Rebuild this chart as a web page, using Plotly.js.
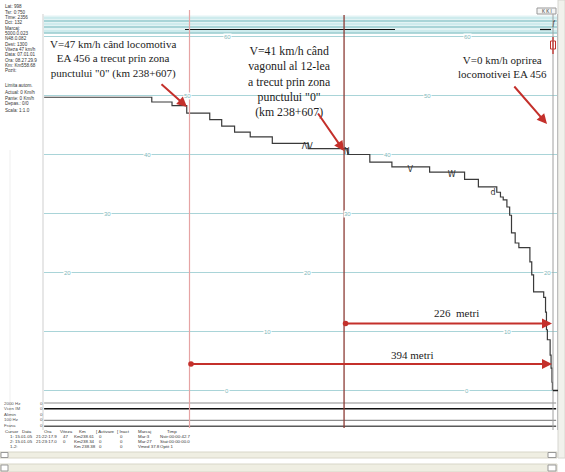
<!DOCTYPE html>
<html><head><meta charset="utf-8">
<script src="https://cdn.plot.ly/plotly-3.0.1.min.js"></script>
<style>html,body{margin:0;padding:0;background:#fff}#c{width:565px;height:472px}</style>
</head><body><div id="c"></div>
<script>
// ---- data ----
const distM = [-158, -41, -19, -3, 22, 35, 49, 66, 90, 129, 172, 196, 220, 261, 299, 314, 334, 338, 341, 345, 348, 350, 354, 358, 370, 372, 374, 385, 387, 388, 389, 392, 393, 394, 394.5];
const speedKmh = [49.7, 48.9, 48.3, 47.0, 45.9, 44.8, 43.8, 43.0, 41.9, 41.0, 40.0, 38.7, 37.9, 37.0, 35.8, 34.5, 33.6, 32.8, 32.3, 31.1, 29.7, 26.7, 25.0, 24.2, 21.8, 19.6, 16.7, 15.8, 13.3, 10.3, 8.6, 6.0, 3.8, 1.4, 0];
const markDist = [128, 171, 240, 285, 330];
const markSpeed = [41.3, 40.4, 37.4, 36.5, 33.5];
const markText = ['ΛV', 'N', 'V', 'W', 'd'];
const gridValues = [60, 50, 40, 30, 20, 10, 0];
const channelNames = ['2000 Hz', 'Vcen IM', 'Alimin', '100 Hz', 'Frana'];
const channelValues = [0, 0, 0, 0, 0];
const loco0Dist = 0;      // locomotive passes point "0"
const wagon12Dist = 168;  // 12th wagon passes point "0"
const stopDist = 394;     // stop
const infoLines1 = ['Lat: 998','Tsr: 0:750','Time: 2356','Dct: 132','Marcaj:','5000.0.023','N48.0.082','Dest: 1300','Viteza 47 km/h','Data: 07.01.01','Ora: 08.27.29.9','Km: Km558.68','Pozit:'];
const infoLines2 = ['Limita autom.','Actual: 0 Km/h','Pante: 0 Km/h','Depas.: 0/0','Scala: 1:1.0'];
const tableHeader = ['Cursor','Data','Ora','Viteza','Km','[ Activare','[ Inact','Marcaj','Timp'];
const tableRow1 = ['1:','15.01.05','21:22:17.9','47','Km238.61','0','0','Mar:3','Nstr:00:00:42.7'];
const tableRow2 = ['2:','15.01.05','21:23:17.0','0','Km238.34','0','0','Mar:27','Stat:00:00:00.0'];
const tableRow3 = ['1-2:','','','','Km 238.38','0','0','Vmed 37.8','Optit 1'];
const note1 = 'V=47 km/h când locomotiva<br>EA 456 a trecut prin zona<br>punctului "0" (km 238+607)';
const note2 = 'V=41 km/h când<br>vagonul al 12-lea<br>a trecut prin zona<br>punctului "0"<br>(km 238+607)';
const note3 = 'V=0 km/h oprirea<br>locomotivei EA 456';
const dist1Label = '226  metri';
const dist2Label = '394 metri';

// ---- layout helpers ----
const W = 565, H = 472;
const px = x => x / W, py = y => 1 - y / H;
const X0 = 189.5, KX = 0.92, V0 = 390.5, KV = 5.9;
const xr = [(44 - X0) / KX, (558 - X0) / KX];
const yr = [(V0 - 392) / KV, (V0 - 33) / KV];
const gridCol = '#a9d4d8', teal = '#6fb5ba', red = '#c4302b';

const traces = [
  {x: distM, y: speedKmh, type: 'scatter', mode: 'lines', line: {shape: 'hv', color: '#3a3a3a', width: 1.2}, hoverinfo: 'skip'},
  {x: markDist, y: markSpeed, type: 'scatter', mode: 'text', text: markText, textfont: {size: 8, color: '#333', family: 'DejaVu Sans'}, hoverinfo: 'skip'}
];
const chColors = ['#8d8d8d', '#111111', 'rgba(0,0,0,0)', '#8d8d8d', '#5a5a5a'];
const chWidths = [1, 1.6, 1, 1.2, 1.6];
channelNames.forEach((n, i) => {
  traces.push({x: [distM[0], distM[distM.length - 1] + 4], y: [i + channelValues[i], i + channelValues[i]], yaxis: 'y2',
    type: 'scatter', mode: 'lines', line: {color: chColors[i], width: chWidths[i]}, hoverinfo: 'skip'});
});

const shapes = [];
const annotations = [];
const line = (x0, y0, x1, y1, color, width, extra) => shapes.push(Object.assign({type: 'line', xref: 'paper', yref: 'paper', x0: px(x0), x1: px(x1), y0: py(y0), y1: py(y1), line: {color, width}}, extra || {}));
const rect = (x0, y0, x1, y1, fill, lc) => shapes.push({type: 'rect', xref: 'paper', yref: 'paper', x0: px(x0), x1: px(x1), y0: py(y0), y1: py(y1), fillcolor: fill, line: {color: lc || fill, width: 1}, layer: 'below'});
const txt = (x, y, t, size, color, anchor, fam, extra) => annotations.push(Object.assign({xref: 'paper', yref: 'paper', x: px(x), y: py(y), text: t, showarrow: false, xanchor: anchor || 'left', yanchor: 'middle', font: {size, color, family: fam || 'Liberation Sans'}}, extra || {}));

// top band
rect(44, 16, 557, 33, '#e2f3f4');
[[18, '#b9e3e6', 1.2], [21, teal, 1.2], [24, '#b9e3e6', 1.2], [27, teal, 1.2], [31, '#b9e3e6', 1], [33, teal, 1.2]].forEach(l => line(44, l[0], 557, l[0], l[1], l[2]));
line(185, 29.5, 395, 29.5, '#111', 1.2);
line(540, 29.5, 551, 29.5, '#111', 1.2);
// left border & right borders
line(43, 14, 43, 430, '#cfcfcf', 1);
line(10, 150, 10, 430, '#efefef', 1);
line(553, 14, 553, 430, '#a0a0a0', 1);
line(557.5, 14, 557.5, 430, '#bdbdbd', 1);
// vertical markers (data x)
shapes.push({type: 'line', xref: 'x', yref: 'paper', x0: loco0Dist, x1: loco0Dist, y0: py(10), y1: py(428), line: {color: '#e6a4a4', width: 1.2}});
shapes.push({type: 'line', xref: 'x', yref: 'paper', x0: wagon12Dist, x1: wagon12Dist, y0: py(15), y1: py(428), line: {color: '#8c3b35', width: 1.3}});
// gridline labels
gridValues.forEach((v, k) => {
  for (let xp = 227 - 40 * k; xp < 558; xp += 240) {
    if (xp < 50) continue;
    annotations.push({xref: 'paper', yref: 'y', x: px(xp), y: v, text: String(v), showarrow: false, xanchor: 'center', yanchor: 'middle',
      font: {size: 6, color: '#7fb9bd', family: 'Liberation Sans'}, bgcolor: '#ffffff', borderpad: 0});
  }
});
// stop marker on 0 line
line(553, 390.5, 558, 390.5, '#222', 1.5);

// top-right widgets
rect(537, 8, 556, 14, '#f4f4f4', '#999');
txt(546.5, 11, 'K K I', 4.5, '#333', 'center');
txt(553.5, 23, 'ƒ', 7, '#444', 'center');
rect(550.5, 41, 555.5, 49, 'rgba(0,0,0,0)', red);
line(553, 37, 553, 54, red, 1.3);
// right scrollbar
rect(558, 0, 565, 458, '#f1f1ec', '#d6d6d0');
// bottom scrollbars
rect(0, 452, 557, 458, '#efeee2', '#d8d6c8');
rect(1, 452.5, 8, 457.5, '#ffffff', '#999');
rect(0, 464, 557, 472, '#efeee2', '#d8d6c8');
rect(1, 465, 8, 471, '#ffffff', '#999');
rect(548, 452.5, 556, 457.5, '#ffffff', '#999');
rect(548, 465, 556, 471, '#ffffff', '#999');

// left info panel
infoLines1.forEach((t, i) => txt(3, 7 + 5.3 * i, t, 4.6, '#333'));
infoLines2.forEach((t, i) => txt(3, 86 + 6 * i, t, 4.6, '#333'));
// channel labels
channelNames.forEach((n, i) => { txt(2, 403 + 5.5 * i, n, 4.4, '#555'); txt(41, 403 + 5.5 * i, String(channelValues[i]), 4.4, '#555', 'center'); });
// table
const hX = [3, 20, 42, 58, 77, 94, 115, 136, 165];
const rX = [8, 13, 34, 61, 72, 97, 118, 136, 158];
tableHeader.forEach((t, i) => txt(hX[i], 431, t, 4.4, '#333'));
[tableRow1, tableRow2, tableRow3].forEach((row, r) => row.forEach((t, i) => { if (t) txt(rX[i], 436.3 + 5 * r, t, 4.4, '#333'); }));

// notes with arrows
const serif = 'Liberation Serif';
txt(113, 59, note1, 11, '#1c1c1c', 'center', serif, {align: 'center'});
txt(289, 81, note2, 11.8, '#1c1c1c', 'center', serif, {align: 'center'});
txt(502, 67, note3, 11, '#1c1c1c', 'center', serif, {align: 'center'});
const arrow = (hx, hy, tx, ty) => annotations.push({xref: 'paper', yref: 'paper', x: px(hx), y: py(hy), ax: tx - hx, ay: ty - hy, text: '', showarrow: true,
  arrowhead: 2, arrowsize: 1, arrowwidth: 2, arrowcolor: red});
arrow(187, 107, 160, 83);
arrow(344, 151, 317, 112);
arrow(547, 124, 513, 85);
// distance arrows (data coords)
const vAt = yp => (V0 - yp) / KV;
[[wagon12Dist, vAt(323.5), dist1Label, 456, 313], [loco0Dist, vAt(364), dist2Label, 412, 355]].forEach(d => {
  annotations.push({xref: 'x', yref: 'y', axref: 'x', ayref: 'y', x: stopDist, y: d[1], ax: d[0], ay: d[1], text: '', showarrow: true,
    arrowhead: 2, arrowsize: 1, arrowwidth: 2, arrowcolor: red, arrowside: 'end+start', startarrowhead: 6, startarrowsize: 0.7});
  txt(d[3], d[4], d[2], 11, '#1c1c1c', 'center', serif);
});

const layout = {
  width: W, height: H, margin: {l: 0, r: 0, t: 0, b: 0}, showlegend: false,
  paper_bgcolor: '#ffffff', plot_bgcolor: 'rgba(0,0,0,0)',
  xaxis: {domain: [px(44), px(558)], range: xr, showgrid: false, zeroline: false, showticklabels: false, ticks: '', showline: false, fixedrange: true},
  yaxis: {domain: [py(392), py(33)], range: yr, tick0: 0, dtick: 10, showgrid: true, gridcolor: gridCol, gridwidth: 1, zeroline: false, showticklabels: false, ticks: '', showline: false, fixedrange: true},
  yaxis2: {domain: [py(430), py(398)], range: [4.655, -0.862], anchor: 'x', showgrid: false, zeroline: false, showticklabels: false, ticks: '', showline: false, fixedrange: true},
  shapes, annotations
};
Plotly.newPlot('c', traces, layout, {displayModeBar: false, staticPlot: true});
</script></body></html>
